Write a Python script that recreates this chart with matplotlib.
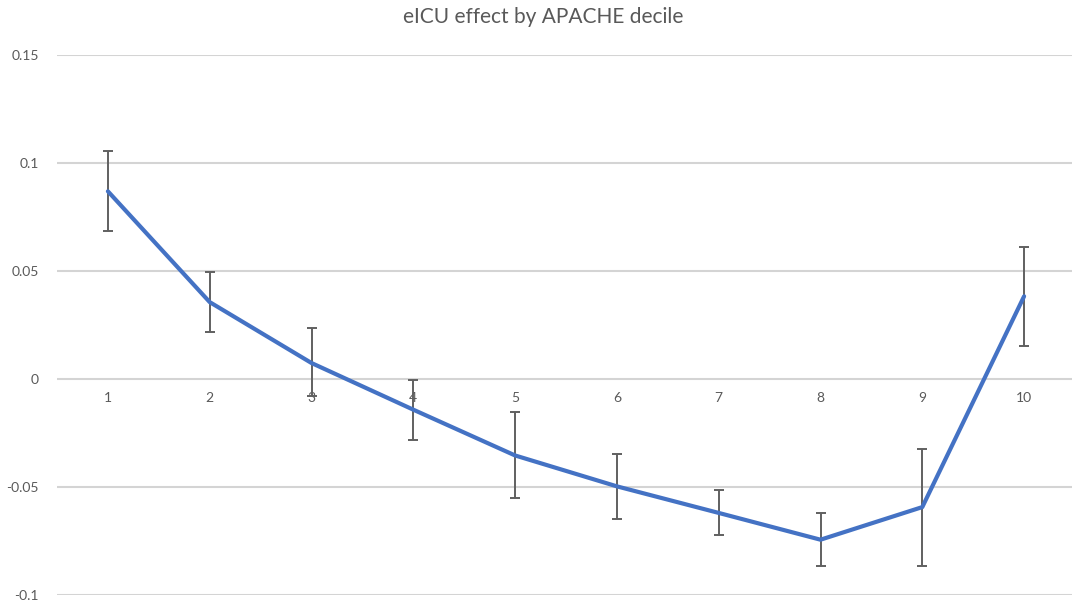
import matplotlib.pyplot as plt
import numpy as np

deciles = [1, 2, 3, 4, 5, 6, 7, 8, 9, 10]
effect = [0.0869, 0.0356, 0.0074, -0.0142, -0.0354, -0.0497, -0.0620, -0.0744, -0.0593, 0.0383]
ci_low = [0.0687, 0.0218, -0.0079, -0.0281, -0.0551, -0.0648, -0.0724, -0.0868, -0.0868, 0.0154]
ci_high = [0.1054, 0.0495, 0.0236, -0.0006, -0.0153, -0.0346, -0.0516, -0.0620, -0.0324, 0.0611]
y_ticks = [-0.1, -0.05, 0, 0.05, 0.1, 0.15]
y_labels = ['-0.1', '-0.05', '0', '0.05', '0.1', '0.15']

plt.rcParams['font.family'] = ['Lato', 'DejaVu Sans']
text_grey = '#595959'

fig = plt.figure(figsize=(10.72, 6.06), dpi=100)
ax = fig.add_axes([57 / 1072, 11 / 606, 1018 / 1072, 540 / 606])

effect = np.array(effect)
yerr = [effect - np.array(ci_low), np.array(ci_high) - effect]
ax.errorbar(deciles, effect, yerr=yerr, fmt='none', ecolor='#606060',
            elinewidth=1.4, capsize=3.5, capthick=1.4, zorder=3)
ax.plot(deciles, effect, color='#4472C4', lw=3.0, solid_capstyle='round',
        solid_joinstyle='round', zorder=4)

ax.set_xlim(0.5, 10.5)
ax.set_ylim(-0.1, 0.15)
ax.set_yticks(y_ticks)
ax.set_yticklabels(y_labels)
ax.set_xticks(deciles)
ax.set_xticklabels([str(d) for d in deciles])
ax.grid(axis='y', color='#d4d4d4', lw=1.5, zorder=0)
ax.set_axisbelow(True)

# category axis sits on the zero line, as in a spreadsheet chart
ax.spines['bottom'].set_position(('data', 0))
for side in ['top', 'right', 'left', 'bottom']:
    ax.spines[side].set_visible(False)
ax.tick_params(axis='both', length=0, colors=text_grey, labelsize=10)
ax.tick_params(axis='x', pad=9)
ax.tick_params(axis='y', pad=13)
ax.patch.set_alpha(0)

fig.text(543 / 1072, 1 - 17 / 606, 'eICU effect by APACHE decile', ha='center', va='center',
         fontsize=15, color=text_grey)

fig.savefig('out.png', dpi=100)
